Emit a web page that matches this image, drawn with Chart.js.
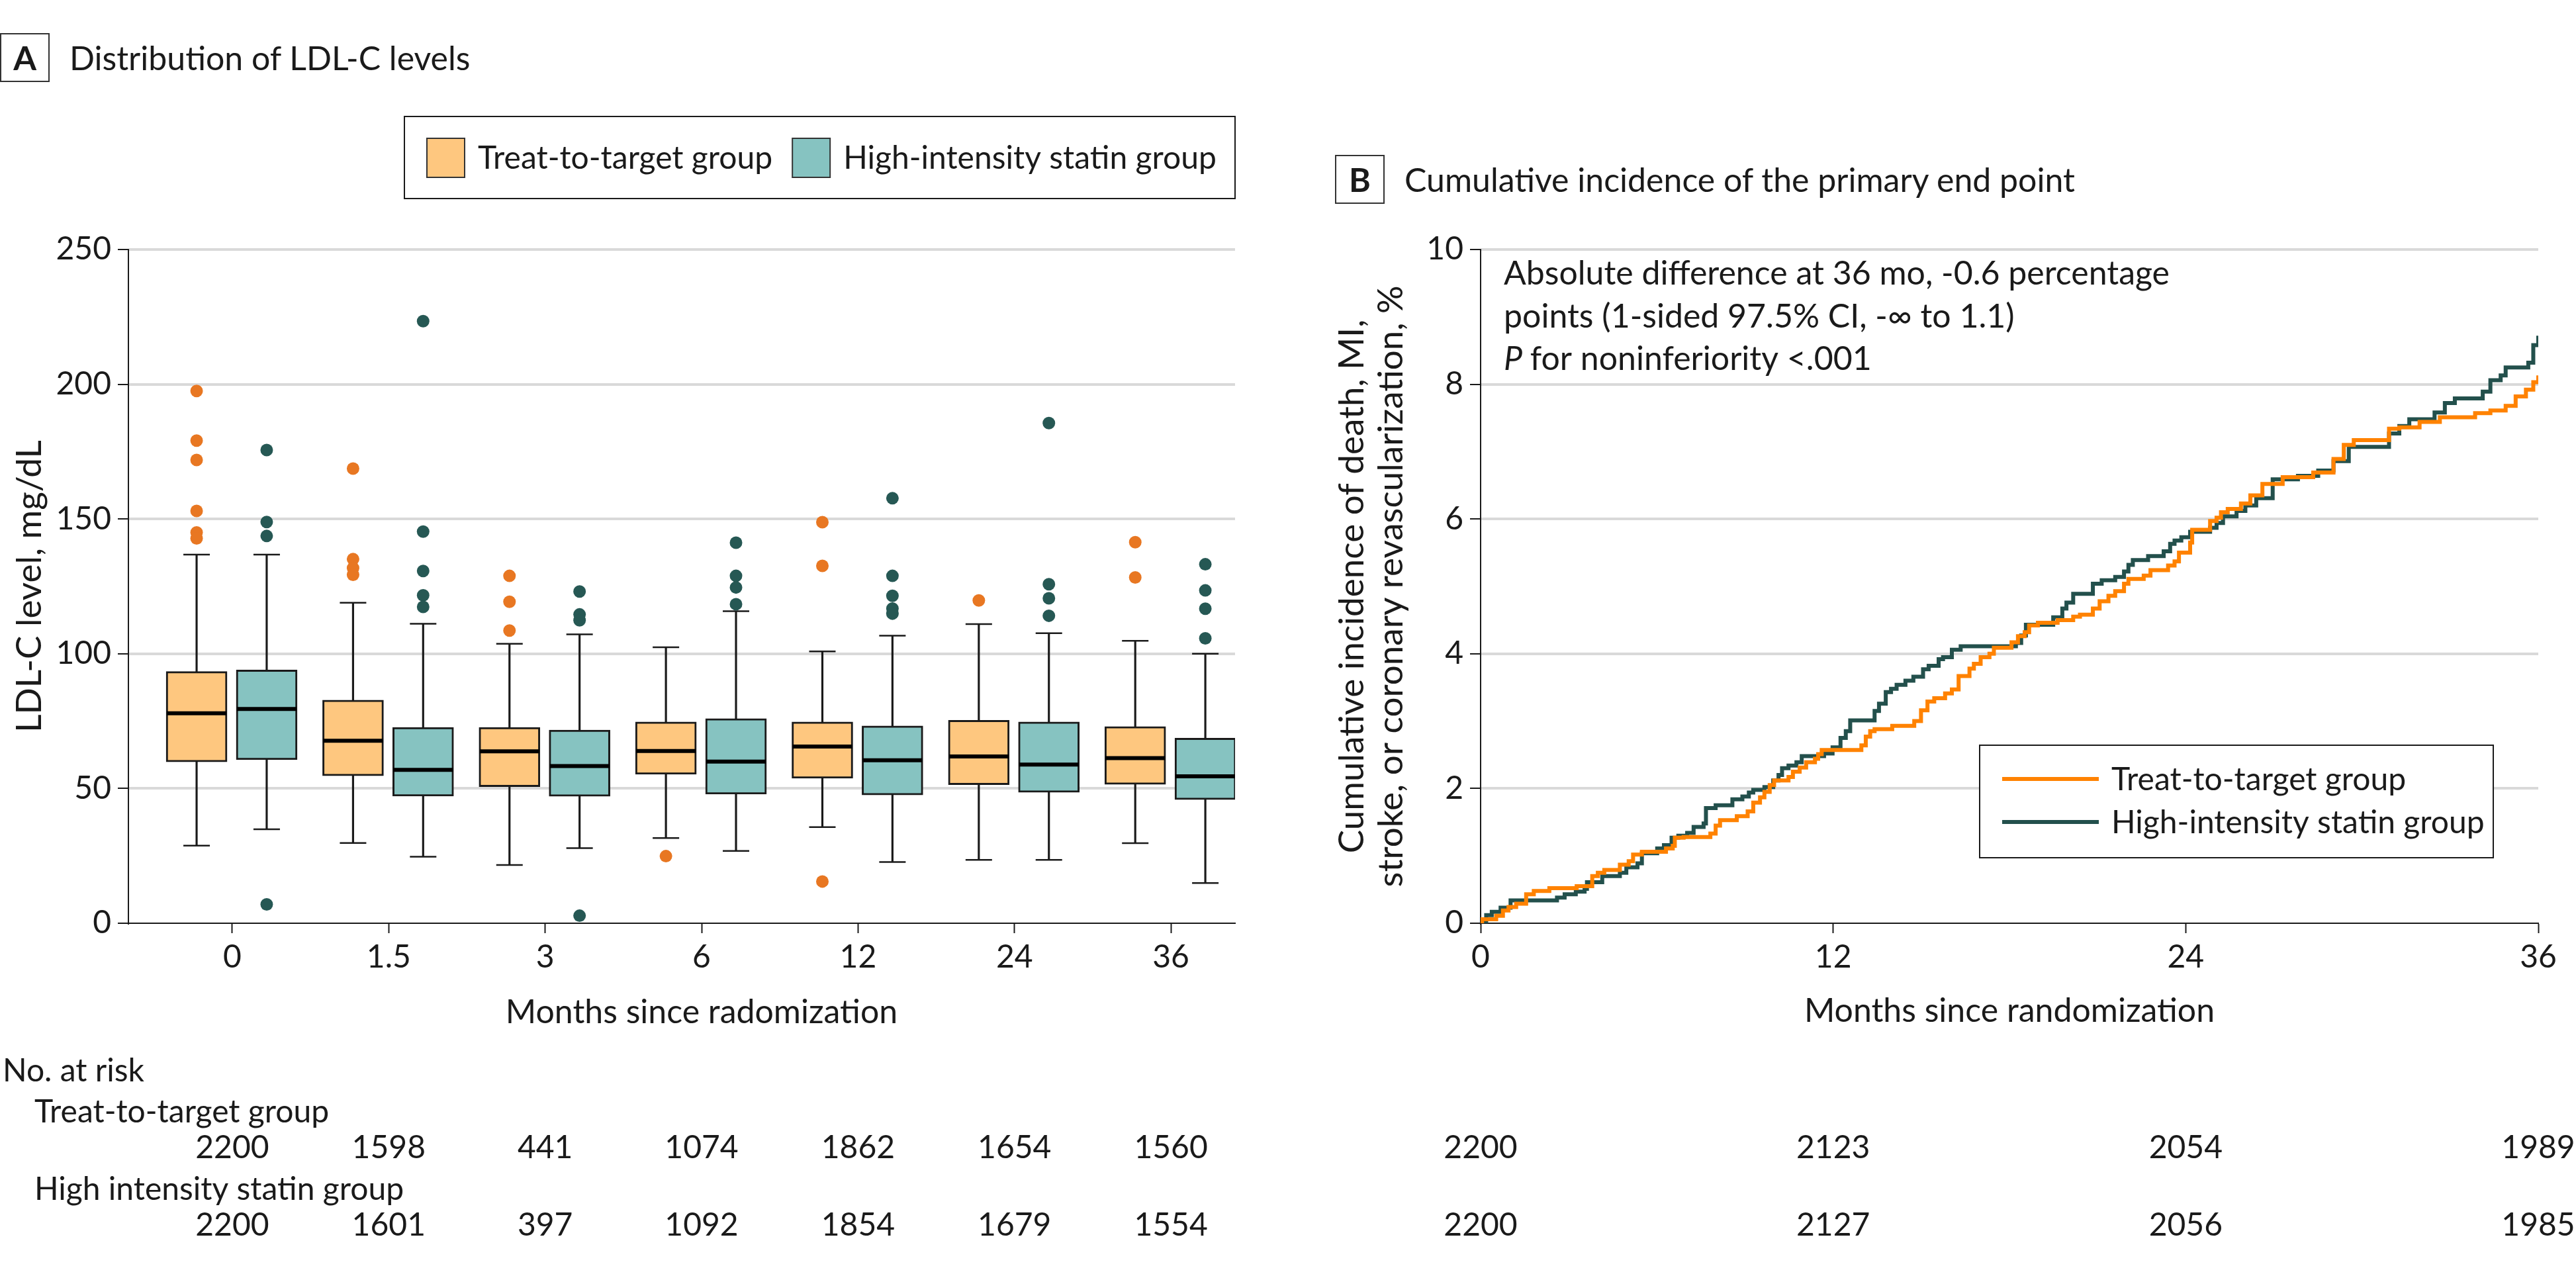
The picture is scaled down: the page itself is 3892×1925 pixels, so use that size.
<!DOCTYPE html>
<html>
<head>
<meta charset="utf-8">
<script src="https://cdn.jsdelivr.net/npm/chart.js@4.4.1/dist/chart.umd.min.js"></script>
<style>
  html, body { margin: 0; padding: 0; background: #fff; }
  body { width: 3892px; height: 1925px; position: relative; overflow: hidden; font-family: Lato, "Open Sans", sans-serif; color: #1a1a1a; }
  canvas { position: absolute; top: 0; }
  #chartA { left: 0; }
  #chartB { left: 1950px; }
  .head { position: absolute; height: 74px; line-height: 74px; font-size: 50px; white-space: nowrap; }
  .head .tag { display: inline-block; width: 71px; height: 70px; border: 2px solid #333; text-align: center; font-weight: bold; line-height: 70px; vertical-align: top; margin-right: 30px; }
</style>
</head>
<body>
<div class="head" style="left:0; top:50px;"><span class="tag">A</span>Distribution of LDL-C levels</div>
<div class="head" style="left:2017px; top:234px;"><span class="tag">B</span>Cumulative incidence of the primary end point</div>
<canvas id="chartA" width="1950" height="1925"></canvas>
<canvas id="chartB" width="1942" height="1925"></canvas>
<script>
// ---- panel A: LDL-C box plots (mg/dL) ----
const months = ['0', '1.5', '3', '6', '12', '24', '36'];

const t2tLow = [28.8, 29.8, 21.6, 31.6, 35.7, 23.5, 29.7];
const t2tQ1 = [59.9, 54.7, 50.7, 55.3, 53.8, 51.4, 51.5];
const t2tMed = [77.9, 67.7, 63.8, 63.9, 65.6, 61.9, 61.3];
const t2tQ3 = [93.4, 82.8, 72.7, 74.7, 74.7, 75.3, 73.0];
const t2tHigh = [136.8, 118.9, 103.7, 102.4, 100.9, 111.0, 104.8];
const t2tOut = [
  [197.5, 179.1, 171.9, 153.0, 145.0, 142.8],
  [168.7, 135.1, 131.8, 129.3],
  [128.9, 119.3, 108.6],
  [24.9],
  [148.8, 132.6, 15.5],
  [119.8],
  [141.4, 128.3]
];

const highLow = [34.9, 24.7, 27.9, 26.8, 22.7, 23.5, 14.9];
const highQ1 = [60.7, 47.2, 47.1, 47.9, 47.6, 48.6, 45.9];
const highMed = [79.5, 56.9, 58.3, 60.0, 60.5, 58.9, 54.5];
const highQ3 = [94.0, 72.7, 71.7, 75.9, 73.2, 74.7, 68.7];
const highHigh = [136.8, 111.1, 107.2, 115.8, 106.7, 107.6, 100.0];
const highOut = [
  [175.6, 148.9, 143.7, 7.0],
  [223.4, 145.3, 130.7, 121.7, 117.4],
  [123.1, 114.6, 112.4, 2.8],
  [141.2, 128.9, 124.6, 118.4],
  [157.7, 128.9, 121.5, 116.8, 114.9],
  [185.6, 125.8, 120.6, 114.1],
  [133.2, 123.5, 116.7, 105.7]
];

const riskT2tA = [2200, 1598, 441, 1074, 1862, 1654, 1560];
const riskHighA = [2200, 1601, 397, 1092, 1854, 1679, 1554];

// ---- panel B: cumulative incidence (%) ----
const t2tTime = [0, 0.05, 0.53, 0.76, 0.95, 1.21, 1.55, 1.81, 2.34, 3.27, 3.8, 3.99, 4.21, 4.74, 5.04, 5.19, 5.49, 6.31, 6.54, 6.61, 6.91, 7.82, 8.0, 8.15, 8.72, 9.09, 9.28, 9.51, 9.66, 9.84, 9.99, 10.48, 10.63, 10.86, 11.08, 11.38, 11.49, 11.61, 12.96, 13.11, 13.26, 13.41, 14.01, 14.76, 14.99, 15.21, 15.44, 15.81, 16.04, 16.27, 16.64, 16.79, 17.02, 17.32, 17.47, 18.07, 18.29, 18.52, 18.67, 18.97, 19.64, 20.17, 20.4, 20.84, 21.07, 21.37, 21.6, 21.9, 22.05, 22.57, 22.8, 23.4, 23.62, 23.77, 24.15, 24.22, 24.83, 25.05, 25.2, 25.43, 25.88, 26.2, 26.61, 27.3, 28.34, 29.03, 29.38, 29.72, 30.92, 31.27, 31.96, 32.65, 33.85, 34.37, 34.89, 35.23, 35.58, 35.83, 36];
const t2tCum = [0, 0.06, 0.11, 0.19, 0.24, 0.29, 0.43, 0.48, 0.52, 0.55, 0.7, 0.75, 0.79, 0.87, 0.92, 1.02, 1.06, 1.11, 1.15, 1.27, 1.28, 1.33, 1.45, 1.53, 1.59, 1.66, 1.79, 1.87, 1.95, 2.05, 2.12, 2.17, 2.25, 2.31, 2.39, 2.44, 2.51, 2.57, 2.64, 2.77, 2.85, 2.88, 2.93, 3.0, 3.16, 3.29, 3.34, 3.41, 3.47, 3.67, 3.78, 3.85, 3.95, 4.0, 4.09, 4.17, 4.26, 4.32, 4.42, 4.46, 4.5, 4.55, 4.58, 4.67, 4.78, 4.86, 4.93, 5.04, 5.11, 5.16, 5.24, 5.31, 5.37, 5.5, 5.65, 5.84, 5.97, 6.02, 6.1, 6.15, 6.23, 6.35, 6.52, 6.62, 6.69, 6.89, 7.1, 7.17, 7.34, 7.36, 7.44, 7.51, 7.57, 7.61, 7.68, 7.82, 7.92, 8.03, 8.13];

const highTime = [0, 0.19, 0.38, 0.68, 1.02, 2.6, 2.86, 3.24, 3.54, 3.62, 4.14, 4.74, 4.96, 5.34, 5.49, 6.01, 6.24, 6.5, 6.73, 7.03, 7.25, 7.59, 7.67, 8.0, 8.57, 8.91, 9.13, 9.28, 9.66, 9.96, 10.14, 10.26, 10.48, 10.75, 10.93, 11.69, 11.98, 12.25, 12.43, 12.58, 13.41, 13.56, 13.79, 13.97, 14.16, 14.46, 14.73, 15.06, 15.25, 15.59, 15.74, 16.04, 16.34, 18.22, 18.4, 18.56, 19.49, 19.8, 19.94, 20.17, 20.84, 21.14, 21.6, 21.9, 22.05, 22.2, 22.72, 23.25, 23.47, 23.62, 23.85, 24.15, 24.83, 25.05, 25.27, 25.73, 26.03, 26.4, 26.96, 27.82, 28.51, 29.03, 29.55, 30.92, 31.27, 31.61, 32.47, 32.82, 33.16, 34.11, 34.37, 34.72, 34.89, 35.66, 35.83, 36];
const highCum = [0, 0.12, 0.17, 0.23, 0.34, 0.38, 0.43, 0.47, 0.51, 0.61, 0.7, 0.75, 0.83, 0.89, 1.04, 1.11, 1.16, 1.27, 1.3, 1.34, 1.43, 1.48, 1.71, 1.75, 1.84, 1.88, 1.94, 1.98, 2.02, 2.12, 2.2, 2.3, 2.34, 2.39, 2.48, 2.52, 2.61, 2.75, 2.85, 3.01, 3.15, 3.26, 3.43, 3.48, 3.54, 3.6, 3.66, 3.77, 3.82, 3.92, 3.95, 4.06, 4.11, 4.16, 4.27, 4.43, 4.54, 4.67, 4.76, 4.89, 5.04, 5.09, 5.14, 5.22, 5.32, 5.39, 5.45, 5.52, 5.63, 5.68, 5.73, 5.81, 5.87, 5.94, 6.04, 6.12, 6.2, 6.31, 6.59, 6.64, 6.72, 6.86, 7.07, 7.27, 7.38, 7.48, 7.58, 7.72, 7.79, 7.89, 8.06, 8.13, 8.25, 8.32, 8.58, 8.72];

const kmTicks = [0, 12, 24, 36];
const riskT2tB = [2200, 2123, 2054, 1989];
const riskHighB = [2200, 2127, 2056, 1985];

// ---- shared look ----
const INK = '#1a1a1a';
const FONT = 'Lato, "Open Sans", sans-serif';
Chart.defaults.font.family = FONT;
Chart.defaults.font.size = 48;
Chart.defaults.color = INK;

const ORANGE_FILL = '#FEC77F', ORANGE_DOT = '#E87722', ORANGE_LINE = '#FF8200';
const TEAL_FILL = '#86C3C1', TEAL_DOT = '#265854', TEAL_LINE = '#23504C';

const skipZero = ctx => ctx.tick && ctx.tick.value === 0 ? 'rgba(0,0,0,0)' : '#D9D9D9';

// number-at-risk rows under each panel, placed by the x scale
const riskTable = {
  id: 'riskTable',
  afterDraw(chart, args, opts) {
    const ctx = chart.ctx;
    const x = chart.scales.x;
    ctx.save();
    ctx.font = '48px ' + FONT;
    ctx.fillStyle = INK;
    ctx.textBaseline = 'alphabetic';
    if (opts.headers) {
      ctx.textAlign = 'left';
      ctx.fillText('No. at risk', 4, 1634);
      ctx.fillText('Treat-to-target group', 52, 1696);
      ctx.fillText('High intensity statin group', 52, 1813);
    }
    ctx.textAlign = 'center';
    opts.at.forEach((v, i) => {
      const px = x.getPixelForValue(v);
      ctx.fillText(String(opts.rowA[i]), px, 1750);
      ctx.fillText(String(opts.rowB[i]), px, 1867);
    });
    ctx.restore();
  }
};

// x title of panel A sits under the middle month, not the plot middle
const monthTitle = {
  id: 'monthTitle',
  afterDraw(chart, args, opts) {
    const ctx = chart.ctx;
    ctx.save();
    ctx.fillStyle = INK;
    ctx.textAlign = 'center';
    ctx.textBaseline = 'alphabetic';
    ctx.font = '50px ' + FONT;
    ctx.fillText(opts.text, chart.scales.x.getPixelForValue(opts.at), 1546);
    ctx.restore();
  }
};

// ---- chart A ----
function boxDatasets(label, fill, dot, off, lo, q1, med, q3, hi, out) {
  const at = i => i + off;
  const outPts = [];
  out.forEach((vals, i) => vals.forEach(v => outPts.push({ x: at(i), y: v })));
  return [
    {
      type: 'bar', label, isBox: true,
      data: months.map((m, i) => ({ x: at(i), y: [q1[i], q3[i]] })),
      backgroundColor: fill, borderColor: INK, borderWidth: 3, borderSkipped: false,
      barThickness: 92, grouped: false, order: 3
    },
    {
      type: 'bar', label: label + ' whisker',
      data: months.map((m, i) => ({ x: at(i), y: [lo[i], hi[i]] })),
      backgroundColor: INK, barThickness: 2.5, grouped: false, order: 5
    },
    {
      type: 'scatter', label: label + ' caps',
      data: months.flatMap((m, i) => [{ x: at(i), y: lo[i] }, { x: at(i), y: hi[i] }]),
      pointStyle: 'line', pointRadius: 20, borderColor: INK, borderWidth: 2.5, order: 2
    },
    {
      type: 'scatter', label: label + ' median',
      data: months.map((m, i) => ({ x: at(i), y: med[i] })),
      pointStyle: 'line', pointRadius: 45, borderColor: '#000', borderWidth: 6, order: 1
    },
    {
      type: 'scatter', label: label + ' outliers',
      data: outPts,
      pointStyle: 'circle', pointRadius: 9.5, backgroundColor: dot, borderWidth: 0, order: 1
    }
  ];
}

const legendA = {
  id: 'legendA',
  afterDraw(chart) {
    const ctx = chart.ctx;
    const area = chart.chartArea;
    const items = chart.data.datasets.filter(d => d.isBox);
    ctx.save();
    ctx.lineWidth = 2;
    ctx.strokeStyle = INK;
    ctx.strokeRect(611, 176, area.right - 611, 124);
    ctx.font = '48px ' + FONT;
    ctx.textBaseline = 'alphabetic';
    let sx = 645;
    items.forEach(d => {
      ctx.fillStyle = d.backgroundColor;
      ctx.fillRect(sx, 209, 57, 59);
      ctx.strokeStyle = '#333';
      ctx.strokeRect(sx, 209, 57, 59);
      ctx.fillStyle = INK;
      ctx.fillText(d.label, sx + 77, 255);
      sx += 77 + ctx.measureText(d.label).width + 30;
    });
    ctx.restore();
  }
};

new Chart(document.getElementById('chartA'), {
  type: 'bar',
  data: {
    datasets: [
      ...boxDatasets('Treat-to-target group', ORANGE_FILL, ORANGE_DOT, -0.228, t2tLow, t2tQ1, t2tMed, t2tQ3, t2tHigh, t2tOut),
      ...boxDatasets('High-intensity statin group', TEAL_FILL, TEAL_DOT, 0.22, highLow, highQ1, highMed, highQ3, highHigh, highOut)
    ]
  },
  options: {
    responsive: false,
    animation: false,
    events: [],
    layout: { padding: { top: 377, left: 0, right: 84, bottom: 367 } },
    plugins: {
      legend: { display: false },
      tooltip: { enabled: false },
      riskTable: { headers: true, at: months.map((m, i) => i), rowA: riskT2tA, rowB: riskHighA },
      monthTitle: { text: 'Months since radomization', at: 3 }
    },
    scales: {
      x: {
        type: 'linear', min: -0.664, max: 6.41, offset: false,
        afterBuildTicks: s => { s.ticks = months.map((m, i) => ({ value: i })); },
        ticks: { callback: v => months[v], padding: 8, maxRotation: 0 },
        grid: { offset: false, drawOnChartArea: false, tickLength: 15, tickColor: INK, tickWidth: 2 },
        border: { color: INK, width: 2 },
        afterFit: s => { s.height = 163; }
      },
      y: {
        min: 0, max: 250,
        ticks: { stepSize: 50, padding: 10 },
        grid: { color: skipZero, lineWidth: 4, tickColor: INK, tickLength: 16, tickWidth: 2 },
        border: { color: INK, width: 2 },
        title: { display: true, text: 'LDL-C level, mg/dL', font: { size: 53 }, padding: { top: 13, bottom: 0 } },
        afterFit: s => { s.width = 194; }
      }
    }
  },
  plugins: [riskTable, legendA, monthTitle]
});

// ---- chart B ----
const legendB = {
  id: 'legendB',
  afterDraw(chart) {
    const ctx = chart.ctx;
    const rows = [1177, 1242];
    ctx.save();
    ctx.lineWidth = 2;
    ctx.strokeStyle = INK;
    ctx.fillStyle = '#fff';
    ctx.fillRect(1041, 1126, 776, 170);
    ctx.strokeRect(1041, 1126, 776, 170);
    ctx.font = '48px ' + FONT;
    ctx.textBaseline = 'alphabetic';
    chart.data.datasets.forEach((d, i) => {
      ctx.strokeStyle = d.borderColor;
      ctx.lineWidth = 6;
      ctx.beginPath();
      ctx.moveTo(1075, rows[i]);
      ctx.lineTo(1221, rows[i]);
      ctx.stroke();
      ctx.fillStyle = INK;
      ctx.fillText(d.label, 1240, rows[i] + 17);
    });
    ctx.restore();
  }
};

const noteB = {
  id: 'noteB',
  afterDraw(chart) {
    const ctx = chart.ctx;
    ctx.save();
    ctx.fillStyle = INK;
    ctx.textBaseline = 'alphabetic';
    ctx.font = '50px ' + FONT;
    ctx.fillText('Absolute difference at 36 mo, -0.6 percentage', 322, 430);
    ctx.fillText('points (1-sided 97.5% CI, -\u221E to 1.1)', 322, 495);
    ctx.font = 'italic 50px ' + FONT;
    ctx.fillText('P', 322, 559);
    const w = ctx.measureText('P ').width;
    ctx.font = '50px ' + FONT;
    ctx.fillText('for noninferiority <.001', 322 + w, 559);
    ctx.restore();
  }
};

new Chart(document.getElementById('chartB'), {
  type: 'line',
  data: {
    datasets: [
      {
        label: 'Treat-to-target group',
        data: t2tTime.map((t, i) => ({ x: t, y: t2tCum[i] })),
        borderColor: ORANGE_LINE, borderWidth: 6, stepped: true, pointRadius: 0, fill: false, order: 0
      },
      {
        label: 'High-intensity statin group',
        data: highTime.map((t, i) => ({ x: t, y: highCum[i] })),
        borderColor: TEAL_LINE, borderWidth: 6, stepped: true, pointRadius: 0, fill: false, order: 1
      }
    ]
  },
  options: {
    responsive: false,
    animation: false,
    events: [],
    layout: { padding: { top: 377, left: 0, right: 57, bottom: 367 } },
    plugins: {
      legend: { display: false },
      tooltip: { enabled: false },
      riskTable: { headers: false, at: kmTicks, rowA: riskT2tB, rowB: riskHighB }
    },
    scales: {
      x: {
        type: 'linear', min: 0, max: 36,
        afterBuildTicks: s => { s.ticks = kmTicks.map(v => ({ value: v })); },
        ticks: { padding: 8, maxRotation: 0 },
        grid: { drawOnChartArea: false, tickLength: 15, tickColor: INK, tickWidth: 2 },
        border: { color: INK, width: 2 },
        title: { display: true, text: 'Months since randomization', font: { size: 50 }, padding: 0 },
        afterFit: s => { s.height = 163; }
      },
      y: {
        min: 0, max: 10,
        ticks: { stepSize: 2, padding: 10 },
        grid: { color: skipZero, lineWidth: 4, tickColor: INK, tickLength: 16, tickWidth: 2 },
        border: { color: INK, width: 2 },
        title: {
          display: true,
          text: ['Cumulative incidence of death, MI,', 'stroke, or coronary revascularization, %'],
          font: { size: 53, lineHeight: 1.113 },
          padding: { top: 63, bottom: 0 }
        },
        afterFit: s => { s.width = 287; }
      }
    }
  },
  plugins: [riskTable, legendB, noteB]
});
</script>
</body>
</html>
